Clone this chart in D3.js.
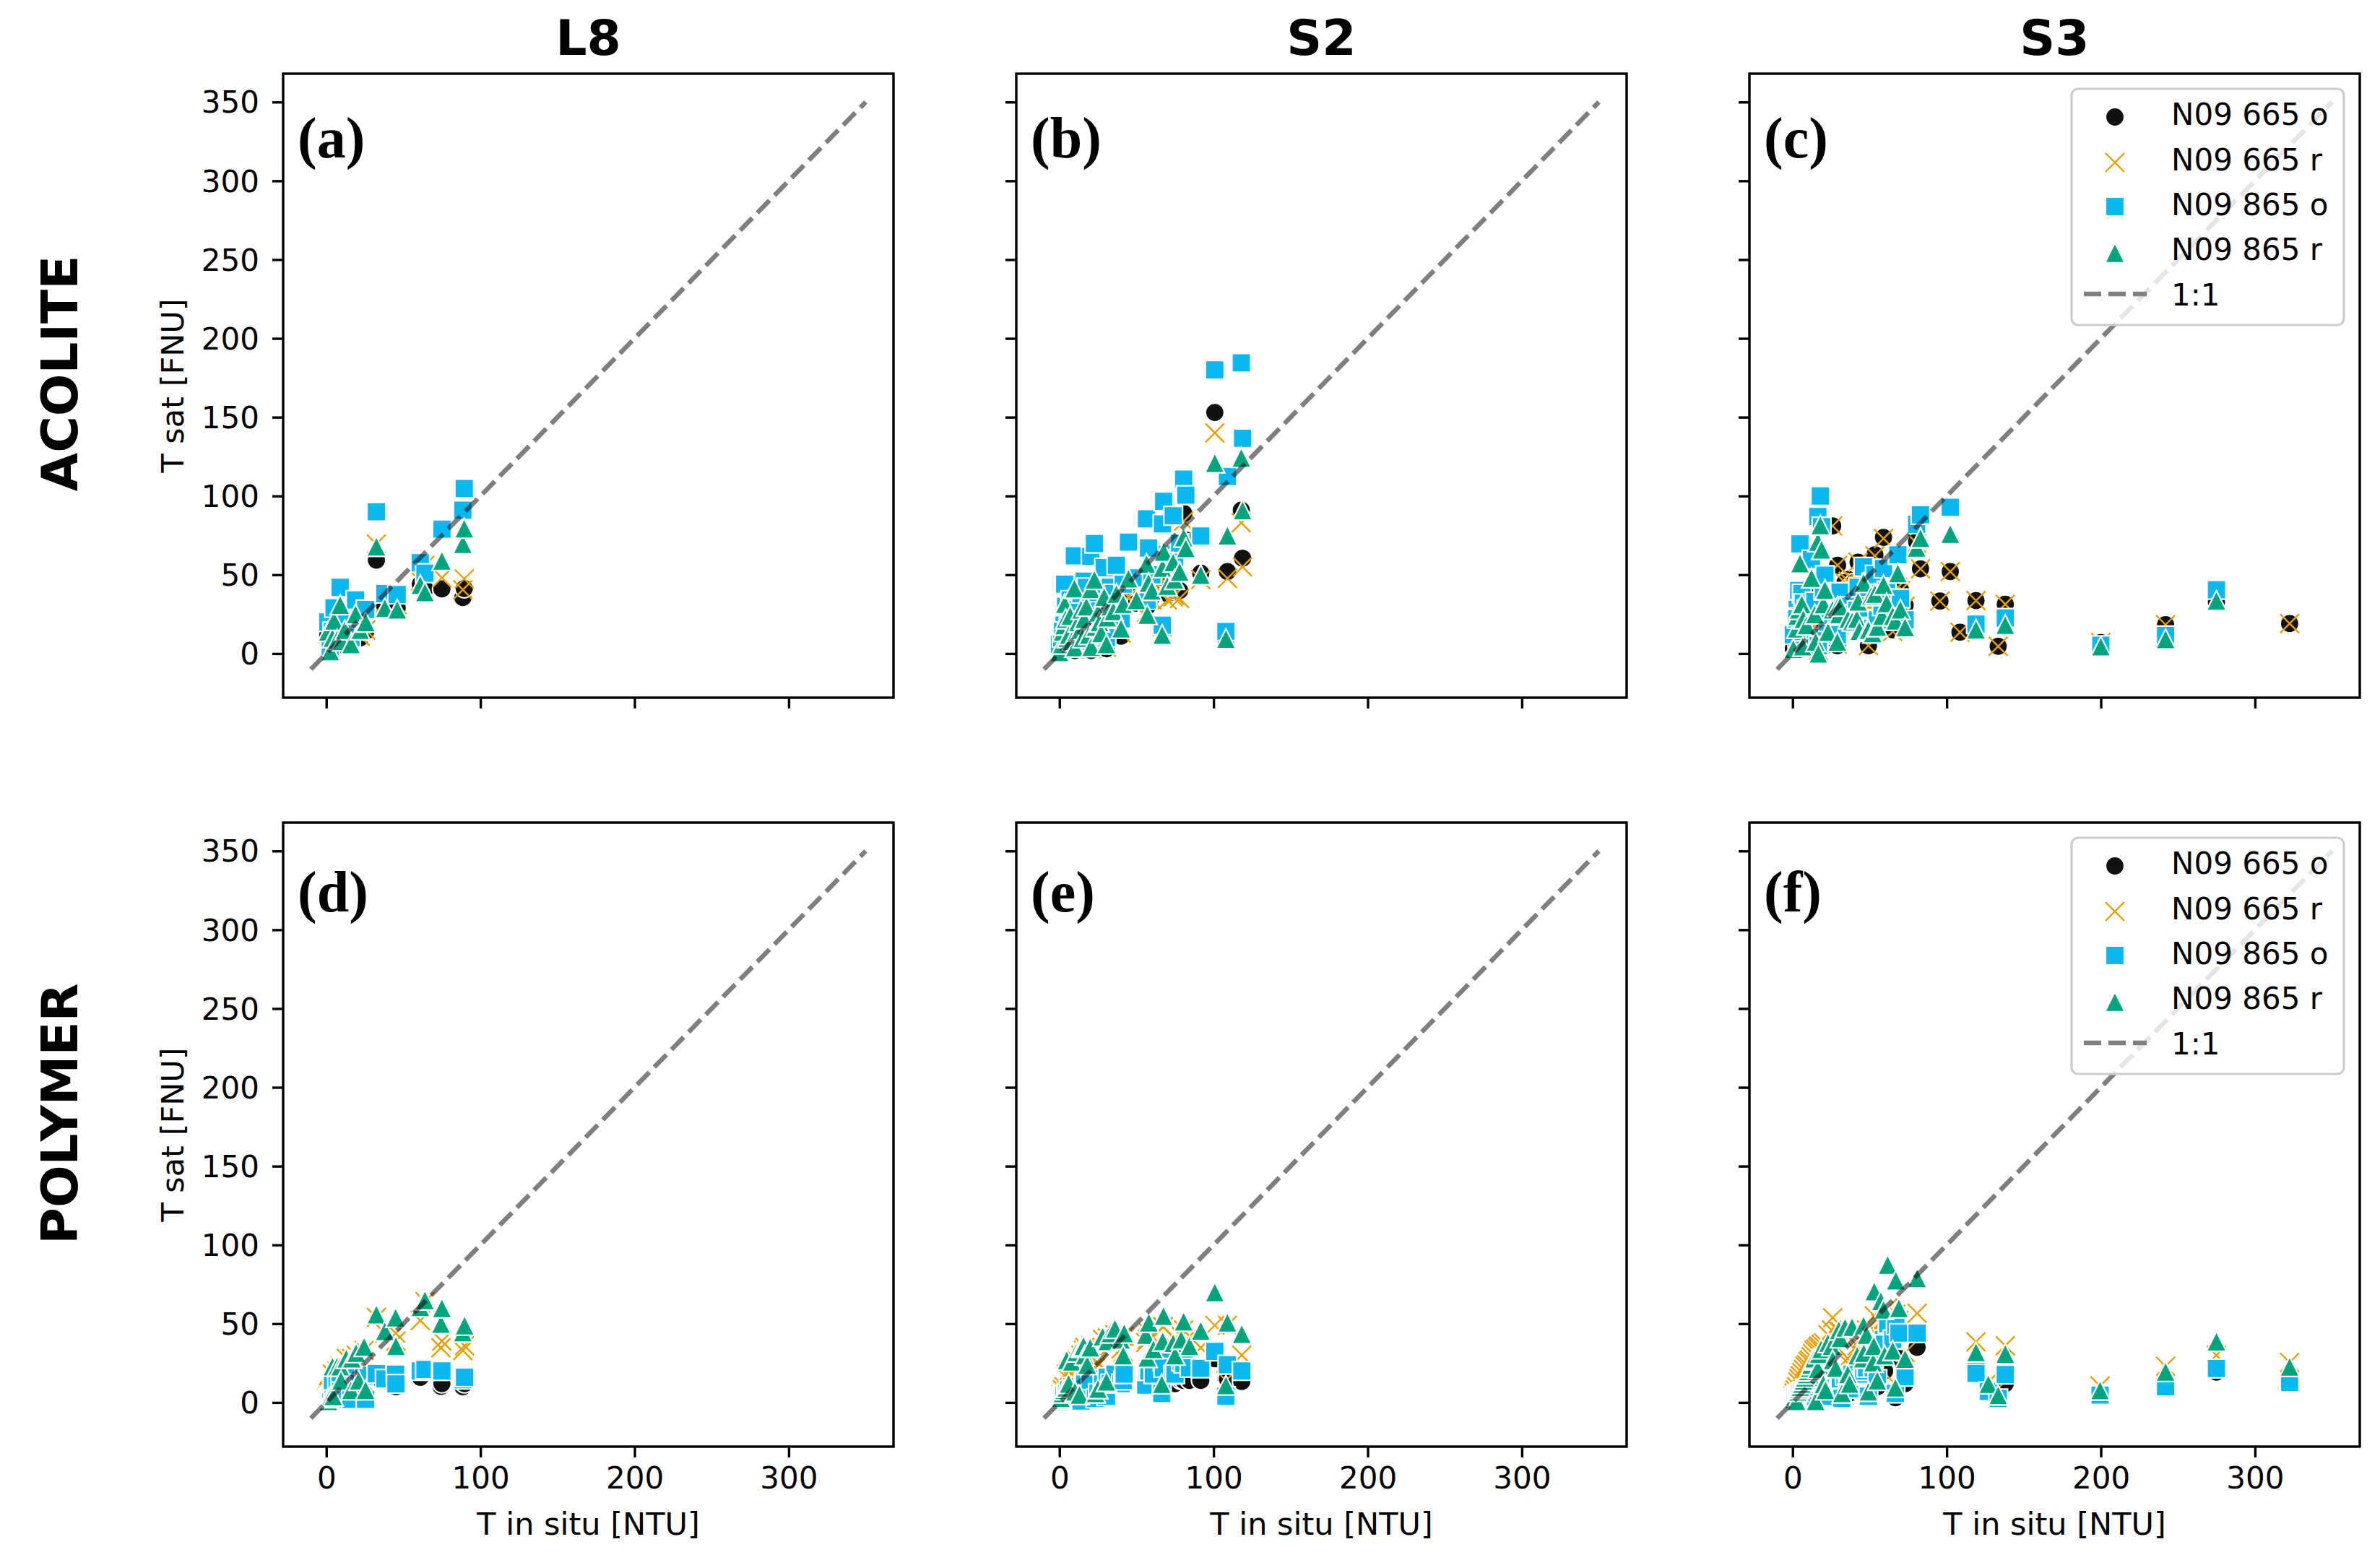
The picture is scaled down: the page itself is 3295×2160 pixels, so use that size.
<!DOCTYPE html>
<html>
<head>
<meta charset="utf-8">
<title>N09 turbidity</title>
<script src="https://cdn.jsdelivr.net/npm/d3@7/dist/d3.min.js"></script>
<style>
  html, body { margin: 0; padding: 0; background: #fff; }
  svg { display: block; font-family: "DejaVu Sans", sans-serif; }
</style>
</head>
<body>
<svg id="chart" width="3295" height="2160"></svg>
<script>
"use strict";

const columnTitles = ["L8", "S2", "S3"];
const rowTitles = ["ACOLITE", "POLYMER"];
const xTicks = [0, 100, 200, 300];
const yTicks = [0, 50, 100, 150, 200, 250, 300, 350];
const seriesNames = ["N09 665 o", "N09 665 r", "N09 865 o", "N09 865 r"];
const lineName = "1:1";

// Values, null where a marker can't be seen at all.
const aX = [1, 2.6, 4, 5, 7, 9, 10, 12, 16, 19, 22, 25.6, 32.5, 38, 46, 61, 64, 75, 88.6, 89.5];
const a665o = [12, 1, 8, 13, 6, 18, 5, 12, 5, 14, 10, 14, 59.3, 30, 29, 44, 41, 41, 35.5, 41.3];
const a665r = [13, 2, 9, 14, 7, 20, 6, 13, 6, 15, 11, 15, 69.5, 32, 31, 46, 56, 48, 40.5, 47.4];
const a865o = [20, 4, 14, 29, 12, 42, 12, 21, 10, 34, 22, 28, 90, 38, 37.5, 57.6, 51, 79, 91, 104.7];
const a865r = [14, 1.5, 10, 21, 9, 31, 8, 15, 6, 25, 15, 20, 68, 29, 28, 43.6, 39, 59, 69.6, 79.5];

const bX = [0, 1.5, 2, 3, 3.4, 4, 5, 6, 7, 8, 9.7, 10, 11, 12, 13.3, 14, 15, 16, 17.5, 19, 20.3, 20.6, 22.7, 23.4, 25, 26, 27, 29, 30.5, 31, 33, 35, 37, 40, 41.4, 44.8, 50, 56.5, 57, 57.8, 60, 66.7, 66.9, 67.6, 70, 73.8, 74.7, 78, 80.6, 82, 91.7, 100.8, 108, 109, 118, 118.8];
const b665o = [1, 4, 9, 12, 20, 14, 6, 8, 15, 4, 27, 2, 8, 13, 9, 18, 6, 14, 20, 8, 28, 2, 30, 11, 17, 13, 8, 24, 3, 15, 20, 18, 25, 11, 30, 38, 32, 30, 30, 38, 36, 17, 40, 48, 38, 39, 40, 40, 89, 72, 51, 153, 9, 52, 91, 60.5];
const b665r = [2, 5, 10, 13, 22, 16, 7, 9, 17, 5, 30, 3, 10, 14, 10, 20, 7, 16, 22, 9, 30, 3, 33, 12, 19, 14, 9, 26, 4, 17, 22, 20, 27, 13, 33, 36, 30, 26, 26, 38, 34, 17, 38, 46, 34, 36, 37, 35, 84, 68, 47, 140, 10, 47.7, 83, 55];
const b865o = [6, 10, 18, 26, 44, 30, 14, 17, 34, 11, 62, 7, 20, 28, 21, 38, 14, 46, 42, 17, 61.7, 8, 69.8, 24, 35, 27, 18, 54.5, 10, 32, 42, 38, 56, 22, 44, 70.7, 48, 85.5, 34, 67, 50, 18, 82.3, 96.6, 63, 87.4, 60, 70, 110.7, 100.5, 74.6, 180, 14, 112.4, 184.5, 136.6];
const b865r = [1, 6, 14, 18, 31.5, 22, 10, 12, 24, 8, 41.4, 4, 14, 20, 15, 28, 10, 22, 30, 12, 41, 4.3, 47, 17, 26, 20, 13, 36, 6, 23, 30, 27, 38, 16, 31.5, 47.7, 34, 57, 24.7, 45, 40, 12, 54.5, 64.7, 43, 58, 47, 52, 73.8, 67, 50, 121, 9.4, 75, 124.4, 91];

// The last nine S3 points only show as circles and crosses, hidden in the pile of 865 marks
const cX = [0.5, 2.7, 3, 4, 4.8, 6, 6.6, 7, 9, 12.3, 14.4, 15, 16.4, 16.7, 18, 18.8, 20, 21, 23, 26, 29, 29.2, 30, 30.8, 36, 38.6, 41.7, 42.5, 43.3, 46, 48, 49.2, 51, 52, 53.4, 55, 58, 59, 61, 65, 66.7, 68.3, 70, 73, 80.5, 83, 95.6, 102.3, 108.6, 119, 133.4, 138, 200, 242, 275, 322.5, 34, 37, 40, 45, 50, 53, 56, 60, 64];
const c665o = [3, 8, 5, 20, 30, 22, 3, 18, 14, 38, 17, 3, 30, 1, 40, 36, 20, 26, 8, 81, 5, 56, 18, 30, 47, 35, 38, 58, 28, 40, 28, 5, 40, 32, 62.7, 30, 36, 73.7, 36, 15, 30, 43, 40.5, 30.6, 71, 53.8, 33.3, 52, 13.5, 33.6, 4.6, 31.3, 7, 18.3, 32.6, 19, 45, 42, 45, 34, 30, 34, 31, 34, 36];
const c665r = [4, 9, 6, 22, 30, 24, 4, 19, 14, 38, 18, 4, 30, 2, 40, 36, 20, 26, 8, 81, 6, 56, 18, 30, 46, 34, 37, 58, 27, 39, 27, 5, 38, 30, 62, 28, 34, 73, 37, 14, 28, 42, 40, 30, 70, 53.8, 33.3, 52, 13.5, 33.6, 4.6, 31.3, 7, 18.3, 33, 19, 45, 42, 46, 35, 30, 33, 32, 34, 36];
const c865o = [12, 22, 35, 40, 69.6, 38, 14, 32, 28, 59.6, 33, 10, 87, 5, 100, 80.6, 40, 49.7, 20, 38, 12, 39, 39, 39, 30, 25, 27.5, 42, 20, 55, 22, 17, 45, 16, 50, 21.4, 30, 54, 40, 28, 26, 62.7, 35, 21.4, 82, 88, null, 92.8, null, 18.7, null, 22.6, 5.3, 11.5, 40.5, null, null, null, null, null, null, null, null, null, null];
const c865r = [3, 16, 24, 28, 57.3, 31.3, 4.6, 22, 18, 48, 25, 7.6, 71, 0, 81.5, 66, 31.3, 40.5, 13.8, 28, 7.6, 30, 25, 30, 22, 20.6, 22, 33, 14.5, 45, 14, 15, 36.7, 13, 38, 17, 24, 43.6, 32, 24, 21, 51, 28, 16.8, 67.3, 73.4, null, 76, null, 15.3, null, 18.3, 4.6, 9.2, 33.6, null, null, null, null, null, null, null, null, null, null];

const dX = [0.3, 1, 1.4, 2, 3, 4, 4.5, 7, 9, 9.5, 13, 16, 16.5, 19.4, 21, 24.5, 25.5, 32.5, 38, 45, 45.2, 61, 64, 74.4, 75, 88.6, 89.7];
const d665o = [4, 2, 3, 4, 3, 10, 2, 11, 10, 6, 13, 3, 13, 14, 5, 16, 3, 16, 14, 15, 10, 16, 20, 10.2, 12, 10, 12];
const d665r = [3, 4, 6, 7, 8, 18, 5, 20, 23.4, 12, 28, 10, 28, 30, 15, 33, 12, 54, 44, 44, 39, 52, 64, 34.7, 39, 33, 36];
const d865o = [2, 3, 2, 4, 5, 12, 2, 12, 12, 7, 15, 2, 14, 16, 12, 17, 2, 18.3, 15, 18, 11.8, 20, 21, 20, 20, 14.5, 16];
const d865r = [1, 2, 1, 3, 4, 23, 4, 23, 23, 14, 28, 8, 28, 31.6, 14, 35.5, 8, 56, 45.4, 54, 36, 60.7, 65, 50, 60, 44.6, 49];

const eX = [0, 0.5, 1, 2, 3, 4.4, 4.7, 6, 8, 10, 11, 13, 14, 15.6, 16.4, 18, 20, 23.4, 25, 28, 30.5, 31, 33, 36, 40, 41.4, 42, 56, 57, 58, 61, 66.4, 67, 67.5, 73.8, 75, 79, 80.6, 84.4, 91.7, 100.8, 108, 109, 118.3];
const e665o = [1, 2, 3, 4, 5, 6, 8, 7, 9, 5, 6, 4, 8, 11, 13, 9, 13, 5, 6, 14, 8, 14, 11, 15, 13, 13, 15, 12, 14, 14, 13, 7, 14, 16, 12, 12, 14, 14, 14, 14, 27.8, 15, 15, 13.3];
const e665r = [2, 3, 5, 8, 10, 16, 18, 20, 22, 20, 27, 25, 30, 33, 35, 30, 36, 22, 25, 40, 20, 41, 36, 43, 34, 32, 42, 38, 40, 44, 36, 14, 48, 48, 36, 34, 42, 46, 42, 34.7, 49, 14, 49, 30];
const e865o = [1, 2, 4, 5, 4, 6, 5.6, 8, 10, 3, 8, 3, 1, 11, 13, 5, 14, 2.6, 6, 15, 4, 16, 12, 18, 12, 14, 18, 11, 20, 20, 18, 5.7, 26, 22, 17.6, 18, 26, 24.8, 22, 21.7, 32.4, 4, 24, 20];
const e865r = [1, 2, 3, 6, 8, 9.5, 27, 12, 26, 7, 32, 5, 35, 36, 30, 24, 35, 6, 8.7, 42, 13.3, 39, 44, 47, 40, 30, 44, 43, 28.6, 50.8, 34, 11.8, 39, 55, 37.8, 30, 40, 51.5, 36, 45.7, 70, 11, 50.8, 43.6];

const fX = [0, 0.5, 1, 1.5, 2.6, 3.5, 4.2, 5, 6, 7, 8, 9, 10, 11, 12, 13, 14, 15, 16.3, 17, 18.5, 20, 21.4, 23, 25.3, 26, 28, 30, 31, 32, 34, 35.8, 37, 38.6, 42, 45.6, 46, 46.2, 48, 49.2, 52.3, 52.7, 53, 55, 57.3, 59, 59.7, 61.7, 65, 66.7, 67, 69, 73, 80.8, 119, 127, 133.4, 138, 199.5, 242, 275, 322.5];
const f665o = [1, 1, 2, 2, 2, 3, 3, 4, 5, 5, 6, 4, 6, 8, 6, 7, 6, 1, 9, 9, 10, 6, 3, 10, 11, 10, 8, 11, 11, 2, 11, 8, 6, 11, 8, 9, 12, 10, 14, 4, 14, 22, 18, 10, 26, 30, 20, 30, 35, 3, 30, 28, 12, 35, 25.5, 8, 5, 12, 5, 10, 19.3, 13];
const f665r = [2, 4, 6, 8, 10, 13, 15, 17, 19, 21, 23, 24, 26, 27, 29, 31, 33, 34, 35, 36, 37, 38, 20, 43, 46, 53.8, 36, 45, 45, 10, 40, 28, 24, 44, 36, 30, 42, 40, 46, 14, 36, 42, 55, 20, 50, 53, 48, 60, 48, 11.7, 56, 52, 31.7, 56.6, 38.5, 13, 9, 36, 10.4, 23, 30, 25.4];
const f865o = [1, 2, 3, 4, 5, 5, 6, 6, 7, 7, 9, 8, 9, 10, 12, 12, 10, 0, 11, 10, 13, 8, 4, 12, 16, 14, 10, 14, 15, 2.6, 17, 12, 8.7, 18, 14, 17, 18, 20, 22, 4, 22, 28, 30, 14.8, 34, 40, 37, 50, 40, 5.7, 49, 44, 16.4, 44, 18.5, 7, 2.6, 17.8, 4.7, 10, 21.6, 12.8];
const f865r = [1, 1, 2, 4, 1, 7, 8.7, 10, 12, 14, 16, 18, 20, 22, 24, 27, 28, 1, 21.5, 31, 34, 11.7, 8, 38, 36, 27, 22, 46, 41, 6, 47.6, 18, 12, 48, 30, 28, 49, 31.6, 43, 7, 25.5, 36, 70.6, 14, 64.4, 59, 30, 87.5, 33, 9.5, 77.5, 60, 27.8, 79, 32, 11.8, 4.7, 31, 7.8, 19.6, 38.8, 22.8];

const panelLabels = ["(a)", "(b)", "(c)", "(d)", "(e)", "(f)"];
const panelValues = [
  [aX, a665o, a665r, a865o, a865r],
  [bX, b665o, b665r, b865o, b865r],
  [cX, c665o, c665r, c865o, c865r],
  [dX, d665o, d665r, d865o, d865r],
  [eX, e665o, e665r, e865o, e865r],
  [fX, f665o, f665r, f865o, f865r]
];

const colors = ["#111111", "#e69f00", "#0ab7ee", "#00a57d"];
const markerSize = 26;
const axisDomain = [-28, 368];
const lineEnds = [-10, 350];
const colLefts = [392, 1407, 2422];
const rowTops = [102, 1139];
const panelWidth = 845;
const panelHeight = 864;

// Custom d3.symbol types. Size is the side squared, like matplotlib's s.
const circleMark = { draw(ctx, size) {
  const r = Math.sqrt(size) / 2;
  ctx.moveTo(r, 0);
  ctx.arc(0, 0, r, 0, 2 * Math.PI);
} };
const crossMark = { draw(ctx, size) {
  const r = Math.sqrt(size) / 2;
  ctx.moveTo(-r, -r);
  ctx.lineTo(r, r);
  ctx.moveTo(-r, r);
  ctx.lineTo(r, -r);
} };
const squareMark = { draw(ctx, size) {
  const r = Math.sqrt(size) / 2;
  ctx.rect(-r, -r, 2 * r, 2 * r);
} };
const triangleMark = { draw(ctx, size) {
  const r = Math.sqrt(size) / 2 * 1.06;
  ctx.moveTo(0, -r);
  ctx.lineTo(r, r);
  ctx.lineTo(-r, r);
  ctx.closePath();
} };
const markers = [circleMark, crossMark, squareMark, triangleMark];

const svg = d3.select("#chart");

function drawMarker(sel, i) {
  sel.attr("d", d3.symbol().type(markers[i]).size(markerSize * markerSize));
  if (i === 1) {
    sel.attr("fill", "none").attr("stroke", colors[i]).attr("stroke-width", 2.4);
  } else {
    sel.attr("fill", colors[i]).attr("stroke", "#fff").attr("stroke-width", 2.2);
  }
}

function drawLegend(g) {
  const rowY = [39, 102, 163, 227, 284];
  const textY = [35, 98, 160, 222, 285];
  g.append("rect")
    .attr("width", 377).attr("height", 327).attr("rx", 9)
    .attr("fill", "#fff").attr("fill-opacity", 0.8)
    .attr("stroke", "#cccccc").attr("stroke-width", 3.2);

  seriesNames.forEach((name, i) => {
    g.append("path")
      .attr("transform", `translate(60,${rowY[i]})`)
      .call(drawMarker, i);
    g.append("text")
      .attr("x", 138).attr("y", textY[i] + 15)
      .attr("font-size", 42).text(name);
  });

  g.append("line")
    .attr("x1", 17).attr("x2", 104).attr("y1", rowY[4]).attr("y2", rowY[4])
    .attr("stroke", "#808080").attr("stroke-width", 6.5)
    .attr("stroke-dasharray", "24 10");
  g.append("text")
    .attr("x", 138).attr("y", textY[4] + 15)
    .attr("font-size", 42).text(lineName);
}

panelValues.forEach((values, p) => {
  const row = Math.floor(p / 3);
  const col = p % 3;
  const left = colLefts[col];
  const top = rowTops[row];

  const x = d3.scaleLinear().domain(axisDomain).range([left, left + panelWidth]);
  const y = d3.scaleLinear().domain(axisDomain).range([top + panelHeight, top]);

  const panel = svg.append("g").attr("class", "panel");

  // Series go on in legend order, so the triangles end up on top
  values.slice(1).forEach((series, i) => {
    const points = series
      .map((v, k) => ({ x: values[0][k], y: v }))
      .filter((d) => d.y !== null);
    panel.append("g")
      .selectAll("path")
      .data(points)
      .join("path")
      .attr("transform", (d) => `translate(${x(d.x)},${y(d.y)})`)
      .call(drawMarker, i);
  });

  panel.append("line")
    .attr("x1", x(lineEnds[0])).attr("y1", y(lineEnds[0]))
    .attr("x2", x(lineEnds[1])).attr("y2", y(lineEnds[1]))
    .attr("stroke", "#000").attr("stroke-opacity", 0.5)
    .attr("stroke-width", 6.5).attr("stroke-dasharray", "24 10");

  // Axes share ticks across the grid, labels only on the outer panels
  const xAxis = d3.axisBottom(x).tickValues(xTicks).tickSize(15).tickSizeOuter(0)
    .tickFormat(row === 1 ? d3.format("d") : "");
  const yAxis = d3.axisLeft(y).tickValues(yTicks).tickSize(15).tickSizeOuter(0)
    .tickFormat(col === 0 ? d3.format("d") : "");

  const gx = panel.append("g")
    .attr("transform", `translate(0,${top + panelHeight})`)
    .call(xAxis);
  const gy = panel.append("g")
    .attr("transform", `translate(${left},0)`)
    .call(yAxis);
  [gx, gy].forEach((g) => {
    g.select(".domain").remove();
    g.attr("font-family", null).attr("font-size", 42);
    g.selectAll("line").attr("stroke-width", 3.4);
  });
  gx.selectAll("text").attr("y", 28).attr("dy", "0.71em").attr("fill", "#000");
  gy.selectAll("text").attr("x", -33).attr("dy", "0.35em").attr("fill", "#000");

  panel.append("rect")
    .attr("x", left).attr("y", top)
    .attr("width", panelWidth).attr("height", panelHeight)
    .attr("fill", "none").attr("stroke", "#000").attr("stroke-width", 3.4);

  panel.append("text")
    .attr("x", left + 20)
    .attr("y", top + (row === 0 ? 116 : 123))
    .attr("font-family", "'Liberation Serif', serif")
    .attr("font-weight", "bold").attr("font-size", 80)
    .text(panelLabels[p]);

  if (row === 1) {
    panel.append("text")
      .attr("x", left + panelWidth / 2).attr("y", 2125)
      .attr("text-anchor", "middle").attr("font-size", 43)
      .text("T in situ [NTU]");
  }
  if (col === 0) {
    panel.append("text")
      .attr("transform", `translate(254,${top + panelHeight / 2}) rotate(-90)`)
      .attr("text-anchor", "middle").attr("font-size", 43)
      .text("T sat [FNU]");
  }
  if (col === 2) {
    const legend = panel.append("g")
      .attr("transform", `translate(${left + panelWidth - 399},${top + 21})`);
    drawLegend(legend);
  }
});

columnTitles.forEach((title, i) => {
  svg.append("text")
    .attr("x", colLefts[i] + panelWidth / 2).attr("y", 76)
    .attr("text-anchor", "middle")
    .attr("font-weight", "bold").attr("font-size", 68)
    .text(title);
});

const rowLabelY = [517, 1542];
rowTitles.forEach((title, i) => {
  svg.append("text")
    .attr("transform", `translate(107,${rowLabelY[i]}) rotate(-90)`)
    .attr("text-anchor", "middle")
    .attr("font-weight", "bold").attr("font-size", 69)
    .text(title);
});
</script>
</body>
</html>
